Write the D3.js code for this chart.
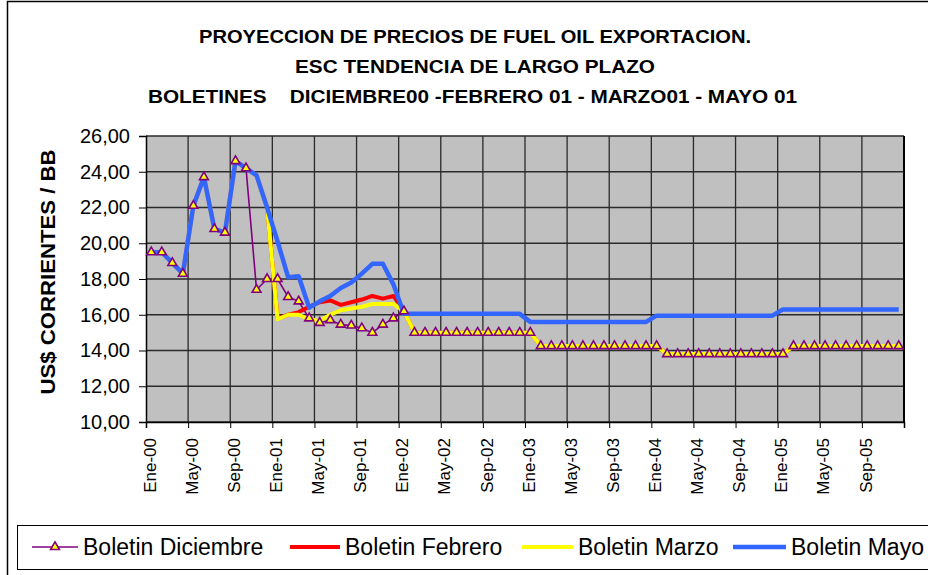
<!DOCTYPE html>
<html>
<head>
<meta charset="utf-8">
<script src="https://cdn.jsdelivr.net/npm/d3@7"></script>
<style>
  body { margin: 0; background: #fff; }
  text { font-family: "Liberation Sans", Arial, sans-serif; }
</style>
</head>
<body>
<div id="chart"></div>
<script>
const months = ["Ene", "Feb", "Mar", "Abr", "May", "Jun", "Jul", "Ago", "Sep", "Oct", "Nov", "Dic"];
const years = ["00", "01", "02", "03", "04", "05"];
const categories = years.flatMap(y => months.map(m => m + "-" + y));

const titleLines = [
    "PROYECCION DE PRECIOS DE FUEL OIL EXPORTACION.",
    "ESC TENDENCIA DE LARGO PLAZO",
    "BOLETINES    DICIEMBRE00 -FEBRERO 01 - MARZO01 - MAYO 01"
];
const yTicks = [10, 12, 14, 16, 18, 20, 22, 24, 26];

// one value per month, Ene-00 .. Dic-05
const diciembre = [
    19.5, 19.5, 18.9, 18.3, 22.1, 23.7, 20.8, 20.6, 24.6, 24.2, 17.4, 18.0,
    18.0, 17.0, 16.75, 15.8, 15.55, 15.7, 15.45, 15.4, 15.25, 15.0, 15.45, 15.8,
    16.2, 15.0, 15.0, 15.0, 15.0, 15.0, 15.0, 15.0, 15.0, 15.0, 15.0, 15.0,
    15.0, 14.25, 14.25, 14.25, 14.25, 14.25, 14.25, 14.25, 14.25, 14.25, 14.25, 14.25,
    14.25, 13.8, 13.8, 13.8, 13.8, 13.8, 13.8, 13.8, 13.8, 13.8, 13.8, 13.8,
    13.8, 14.25, 14.25, 14.25, 14.25, 14.25, 14.25, 14.25, 14.25, 14.25, 14.25, 14.25
];
const febrero = [
    19.5, 19.5, 18.9, 18.3, 22.1, 23.7, 20.8, 20.6, 24.6, 24.2, 23.8, 22.0,
    15.8, 16.0, 16.15, 16.45, 16.7, 16.8, 16.55, 16.7, 16.85, 17.05, 16.9, 17.05,
    16.2, 15.0, 15.0, 15.0, 15.0, 15.0, 15.0, 15.0, 15.0, 15.0, 15.0, 15.0,
    15.0, 14.25, 14.25, 14.25, 14.25, 14.25, 14.25, 14.25, 14.25, 14.25, 14.25, 14.25,
    14.25, 13.8, 13.8, 13.8, 13.8, 13.8, 13.8, 13.8, 13.8, 13.8, 13.8, 13.8,
    13.8, 14.25, 14.25, 14.25, 14.25, 14.25, 14.25, 14.25, 14.25, 14.25, 14.25, 14.25
];
const marzo = [
    19.5, 19.5, 18.9, 18.3, 22.1, 23.7, 20.8, 20.6, 24.6, 24.2, 23.8, 22.0,
    15.75, 16.0, 16.0, 15.75, 15.65, 16.0, 16.25, 16.35, 16.45, 16.6, 16.6, 16.6,
    16.2, 15.0, 15.0, 15.0, 15.0, 15.0, 15.0, 15.0, 15.0, 15.0, 15.0, 15.0,
    15.0, 14.25, 14.25, 14.25, 14.25, 14.25, 14.25, 14.25, 14.25, 14.25, 14.25, 14.25,
    14.25, 13.8, 13.8, 13.8, 13.8, 13.8, 13.8, 13.8, 13.8, 13.8, 13.8, 13.8,
    13.8, 14.25, 14.25, 14.25, 14.25, 14.25, 14.25, 14.25, 14.25, 14.25, 14.25, 14.25
];
const mayo = [
    19.5, 19.5, 18.9, 18.3, 22.1, 23.7, 20.8, 20.6, 24.6, 24.2, 23.8, 22.0,
    20.1, 18.1, 18.15, 16.4, 16.75, 17.05, 17.5, 17.8, 18.3, 18.85, 18.85, 17.7,
    16.05, 16.05, 16.05, 16.05, 16.05, 16.05, 16.05, 16.05, 16.05, 16.05, 16.05, 16.05,
    15.6, 15.6, 15.6, 15.6, 15.6, 15.6, 15.6, 15.6, 15.6, 15.6, 15.6, 15.6,
    15.95, 15.95, 15.95, 15.95, 15.95, 15.95, 15.95, 15.95, 15.95, 15.95, 15.95, 15.95,
    16.3, 16.3, 16.3, 16.3, 16.3, 16.3, 16.3, 16.3, 16.3, 16.3, 16.3, 16.3
];

const seriesNames = ["Boletin Diciembre", "Boletin Febrero", "Boletin Marzo", "Boletin Mayo"];
const seriesColors = ["#800080", "#FF0000", "#FFFF00", "#3366FF"];

const width = 928, height = 575;
const plot = { left: 146, right: 904, top: 136, bottom: 422 };

const svg = d3.select("#chart").append("svg")
    .attr("width", width)
    .attr("height", height);

svg.append("rect").attr("width", width).attr("height", height).attr("fill", "#fff");
// chart area frame
svg.append("rect")
    .attr("x", 7.5).attr("y", 1.5)
    .attr("width", 1000).attr("height", 1000)
    .attr("fill", "none").attr("stroke", "#000").attr("stroke-width", 1.5);

const x = d3.scaleBand().domain(categories).range([plot.left, plot.right]).padding(0);
const xIdx = d3.scaleLinear().domain([0, categories.length]).range([plot.left, plot.right]);
const y = d3.scaleLinear().domain([10, 26]).range([plot.bottom, plot.top]);
const cx = (d, i) => x(categories[i]) + x.bandwidth() / 2;

// plot background
svg.append("rect")
    .attr("x", plot.left).attr("y", plot.top)
    .attr("width", plot.right - plot.left).attr("height", plot.bottom - plot.top)
    .attr("fill", "#C0C0C0");

// grid
const grid = svg.append("g").attr("stroke", "#2a2a2a").attr("stroke-width", 1.3);
grid.selectAll("line.h").data(yTicks).enter().append("line")
    .attr("x1", plot.left).attr("x2", plot.right)
    .attr("y1", d => y(d)).attr("y2", d => y(d));
grid.selectAll("line.v").data(d3.range(4, categories.length + 1, 4)).enter().append("line")
    .attr("x1", d => xIdx(d)).attr("x2", d => xIdx(d))
    .attr("y1", plot.top).attr("y2", plot.bottom);
svg.append("line")
    .attr("x1", plot.right).attr("x2", plot.right)
    .attr("y1", plot.top).attr("y2", plot.bottom)
    .attr("stroke", "#000").attr("stroke-width", 2);

// axes
const yAxis = svg.append("g")
    .attr("transform", `translate(${plot.left},0)`)
    .call(d3.axisLeft(y).tickValues(yTicks).tickSize(7).tickPadding(9)
        .tickFormat(d => d.toFixed(2).replace(".", ",")));
yAxis.select(".domain").attr("stroke", "#000").attr("stroke-width", 1.5);
yAxis.selectAll("text").attr("font-size", 20).attr("fill", "#000")
    .style("font-family", "'Liberation Sans', Arial, sans-serif");

const xAxis = svg.append("g")
    .attr("transform", `translate(0,${plot.bottom})`)
    .call(d3.axisBottom(xIdx).tickValues(d3.range(0, categories.length + 1, 4))
        .tickSize(6).tickFormat(""));
xAxis.select(".domain").attr("stroke", "#000").attr("stroke-width", 1.5);

const labelCats = categories.filter((d, i) => i % 4 === 0);
svg.append("g").selectAll("text").data(labelCats).enter().append("text")
    .attr("transform", d => `translate(${x(d) + x.bandwidth() / 2 - 1.5},438) rotate(-90)`)
    .attr("text-anchor", "end")
    .attr("dy", "0.35em")
    .attr("font-size", 17)
    .text(d => d);

// titles
const titleY = [43, 73, 103];
const titleLen = [552, 360, 649];
svg.append("g").selectAll("text").data(titleLines).enter().append("text")
    .attr("x", (d, i) => i === 2 ? 148 : 475)
    .attr("y", (d, i) => titleY[i])
    .attr("text-anchor", (d, i) => i === 2 ? "start" : "middle")
    .attr("font-size", 18)
    .attr("font-weight", "bold")
    .attr("textLength", (d, i) => titleLen[i])
    .attr("lengthAdjust", "spacingAndGlyphs")
    .style("white-space", "pre")
    .text(d => d);

svg.append("text")
    .attr("transform", "translate(55,272) rotate(-90)")
    .attr("text-anchor", "middle")
    .attr("font-size", 21)
    .attr("font-weight", "bold")
    .attr("textLength", 245)
    .attr("lengthAdjust", "spacingAndGlyphs")
    .text("US$ CORRIENTES / BB");

// lines
const line = d3.line().x(cx).y(d => y(d));
const allSeries = [diciembre, febrero, marzo, mayo];
const widths = [1.6, 4, 4, 4.5];
allSeries.forEach((s, k) => {
    svg.append("path")
        .datum(s)
        .attr("d", line)
        .attr("fill", "none")
        .attr("stroke", seriesColors[k])
        .attr("stroke-width", widths[k])
        .attr("stroke-linejoin", "round");
});

const tri = d3.symbol().type(d3.symbolTriangle).size(34);
svg.append("g").selectAll("path").data(diciembre).enter().append("path")
    .attr("d", tri)
    .attr("transform", (d, i) => `translate(${cx(d, i)},${y(d)})`)
    .attr("fill", "#FFFF00")
    .attr("stroke", "#800080")
    .attr("stroke-width", 1.6);

// legend
const legend = svg.append("g");
legend.append("rect")
    .attr("x", 17.5).attr("y", 525.5)
    .attr("width", 1000).attr("height", 44)
    .attr("fill", "#fff").attr("stroke", "#000").attr("stroke-width", 1);
const legX = [32, 290, 522, 733];
const legTextX = [83, 345, 578, 791];
seriesNames.forEach((name, k) => {
    legend.append("line")
        .attr("x1", legX[k]).attr("x2", k === 0 ? 78 : legTextX[k] - 5)
        .attr("y1", 547).attr("y2", 547)
        .attr("stroke", seriesColors[k])
        .attr("stroke-width", widths[k]);
    legend.append("text")
        .attr("x", legTextX[k]).attr("y", 555)
        .attr("font-size", 23)
        .text(name);
});
legend.append("path")
    .attr("d", tri)
    .attr("transform", "translate(55,547)")
    .attr("fill", "#FFFF00")
    .attr("stroke", "#800080")
    .attr("stroke-width", 1.6);
</script>
</body>
</html>
